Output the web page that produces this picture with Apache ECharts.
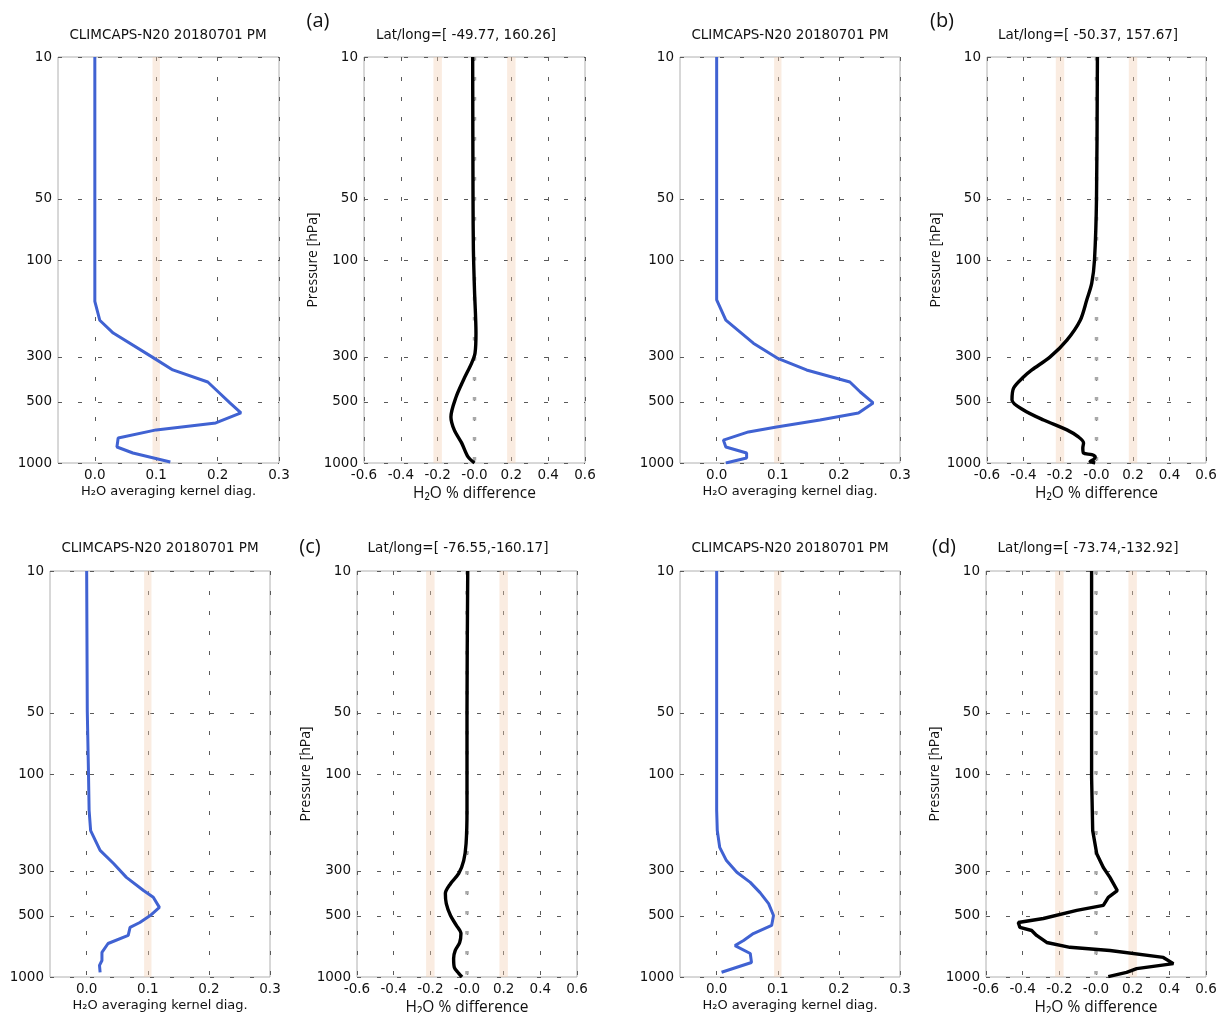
<!DOCTYPE html>
<html>
<head>
<meta charset="utf-8">
<script src="https://cdn.jsdelivr.net/npm/echarts@6/dist/echarts.min.js"></script>
<style>
html,body{margin:0;padding:0;background:#fff;}
#chart{width:1217px;height:1013px;}
</style>
</head>
<body>
<div id="chart"></div>
<script>
// ---------------- DATA ----------------
const pressureTicks = [10, 50, 100, 300, 500, 1000];
const akTicks = [0, 0.1, 0.2, 0.3];
const diffTicks = [-0.6, -0.4, -0.2, 0, 0.2, 0.4, 0.6];

const akTitle = 'CLIMCAPS-N20 20180701 PM';
const locTitles = ['Lat/long=[ -49.77, 160.26]', 'Lat/long=[ -50.37, 157.67]',
                   'Lat/long=[ -76.55,-160.17]', 'Lat/long=[ -73.74,-132.92]'];
const panelLetters = ['(a)', '(b)', '(c)', '(d)'];

// reference (zero-difference) line
const refPressure = [10, 1000];
const refValue = [0, 0];

// target bands
const akBands = [[0.094, 0.106]];
const diffBands = [[-0.223, -0.177], [0.177, 0.223]];

// (a) averaging kernel
const akPressA = [10, 50, 100, 160, 198, 229, 300, 348, 399, 452, 506, 567, 635, 687, 753, 834, 893, 988];
const akValA   = [0, 0, 0, 0.0, 0.008, 0.03, 0.093, 0.127, 0.184, 0.203, 0.22, 0.238, 0.197, 0.1, 0.038, 0.036, 0.062, 0.123];
// (a) % difference
const dfPressA = [10, 50, 89, 141, 229, 287, 321, 390, 473, 593, 687, 796, 933, 1000];
const dfValA   = [-0.01, -0.008, -0.006, 0.0, 0.008, 0.003, -0.015, -0.06, -0.10, -0.128, -0.11, -0.07, -0.035, 0.0];

// (b) averaging kernel
const akPressB = [10, 50, 100, 157, 198, 257, 304, 348, 399, 447, 506, 567, 614, 665, 703, 771, 834, 893, 944, 1000];
const akValB   = [0, 0, 0, 0, 0.015, 0.06, 0.099, 0.147, 0.218, 0.235, 0.256, 0.232, 0.169, 0.098, 0.052, 0.011, 0.015, 0.049, 0.049, 0.015];
// (b) % difference
const dfPressB = [10, 50, 100, 130, 157, 198, 248, 300, 348, 377, 427, 489, 548, 614, 687, 744, 796, 843, 893, 910, 933, 960, 982, 1000];
const dfValB   = [0.005, 0.0, -0.011, -0.026, -0.053, -0.089, -0.162, -0.254, -0.354, -0.40, -0.454, -0.463, -0.40, -0.29, -0.162, -0.099, -0.071, -0.075, -0.071, -0.026, -0.007, -0.016, -0.035, -0.007];

// (c) averaging kernel
const akPressC = [10, 49, 100, 151, 190, 238, 276, 323, 375, 405, 454, 498, 539, 570, 624, 684, 757, 829, 877, 948];
const akValC   = [0, 0.001, 0.003, 0.004, 0.0065, 0.022, 0.044, 0.065, 0.093, 0.109, 0.119, 0.104, 0.087, 0.071, 0.068, 0.035, 0.025, 0.025, 0.021, 0.022];
// (c) % difference
const dfPressC = [10, 50, 151, 220, 267, 309, 347, 388, 435, 498, 557, 611, 676, 740, 810, 897, 960, 1000];
const dfValC   = [0.004, 0, 0, -0.005, -0.018, -0.045, -0.09, -0.118, -0.113, -0.09, -0.058, -0.033, -0.04, -0.064, -0.073, -0.069, -0.045, -0.027];

// (d) averaging kernel
const akPressD = [10, 50, 100, 151, 190, 230, 267, 305, 342, 384, 435, 498, 557, 611, 661, 700, 766, 848, 948];
const akValD   = [0, 0, 0, 0, 0.001, 0.005, 0.016, 0.033, 0.055, 0.071, 0.085, 0.093, 0.09, 0.06, 0.044, 0.03, 0.055, 0.057, 0.008];
// (d) % difference
const dfPressD = [10, 49, 104, 190, 247, 289, 323, 375, 405, 444, 470, 515, 539, 570, 590, 624, 676, 714, 740, 801, 859, 909, 948, 995];
const dfValD   = [-0.024, -0.024, -0.024, -0.018, 0.004, 0.04, 0.076, 0.116, 0.067, 0.04, -0.105, -0.287, -0.424, -0.415, -0.351, -0.324, -0.269, -0.142, 0.076, 0.367, 0.422, 0.222, 0.167, 0.067];

// ---------------- LAYOUT / STYLE ----------------
const panels = [
  {ak: [akPressA, akValA], df: [dfPressA, dfValA], smooth: 0.3},
  {ak: [akPressB, akValB], df: [dfPressB, dfValB], smooth: 0.3},
  {ak: [akPressC, akValC], df: [dfPressC, dfValC], smooth: 0.3},
  {ak: [akPressD, akValD], df: [dfPressD, dfValD], smooth: 0}
];
// grid rectangles: [akRect, dfRect] per panel
const rects = [
  [{left: 58, top: 57, width: 221}, {left: 364, top: 57, width: 221}],
  [{left: 680, top: 57, width: 220}, {left: 987, top: 57, width: 219}],
  [{left: 50, top: 571, width: 220}, {left: 357, top: 571, width: 220}],
  [{left: 680, top: 571, width: 220}, {left: 986, top: 571, width: 220}]
];
const titlePos = [
  {ak: [168, 35], df: [466, 35], letter: [318, 22]},
  {ak: [790, 35], df: [1088, 35], letter: [942, 22]},
  {ak: [160, 548], df: [458, 548], letter: [310, 548]},
  {ak: [790, 548], df: [1088, 548], letter: [944, 548]}
];
const PLOT_H = 406;
const tickFont = 'DejaVu Sans';
const labelFont = 'Open Sans';
const gridDash = {type: [4, 16], color: '#5a5a5a', width: 1};
const blue = '#4062d2';

const zip = (ys, xs) => xs.map((x, i) => [x, ys[i]]);

const grids = [], xAxes = [], yAxes = [], series = [], titles = [];

function addGrid(r) {
  grids.push({left: r.left, top: r.top, width: r.width, height: PLOT_H,
    show: true, borderColor: '#b0b0b0', borderWidth: 1, backgroundColor: 'transparent',
    containLabel: false, outerBoundsMode: 'none'});
  return grids.length - 1;
}

function yAxisFor(gi, withName) {
  const ax = {
    gridIndex: gi, type: 'log', logBase: 10, inverse: true, min: 10, max: 1000,
    axisLine: {show: false},
    axisTick: {show: false, customValues: pressureTicks},
    axisLabel: {customValues: pressureTicks, formatter: v => String(Math.round(v)),
      fontFamily: tickFont, fontSize: 13.5, color: '#111', margin: 6},
    splitLine: {show: true, lineStyle: gridDash}
  };
  if (withName) {
    ax.name = 'Pressure [hPa]';
    ax.nameLocation = 'middle';
    ax.nameRotate = 90;
    ax.nameGap = 44;
    ax.nameTextStyle = {fontFamily: labelFont, fontSize: 14, color: '#111'};
  }
  return ax;
}

panels.forEach((p, i) => {
  // ---- averaging kernel panel ----
  const g1 = addGrid(rects[i][0]);
  xAxes.push({
    gridIndex: g1, type: 'value', min: -0.06, max: 0.3,
    axisLine: {show: false},
    axisTick: {show: false, customValues: akTicks},
    axisLabel: {customValues: akTicks, formatter: v => v.toFixed(1), fontFamily: tickFont, fontSize: 13.5, color: '#111', margin: 5},
    splitLine: {show: true, lineStyle: gridDash},
    name: 'H₂O averaging kernel diag.', nameLocation: 'middle', nameGap: 22,
    nameTextStyle: {fontFamily: tickFont, fontSize: 13, color: '#111'}
  });
  yAxes.push(yAxisFor(g1, false));
  series.push({
    type: 'line', xAxisIndex: g1, yAxisIndex: g1, data: zip(p.ak[0], p.ak[1]),
    showSymbol: false, symbol: 'none', smooth: false,
    lineStyle: {color: blue, width: 3}, z: 5,
    markArea: {silent: true, itemStyle: {color: 'rgba(242,205,175,0.38)'},
      data: akBands.map(b => [{xAxis: b[0]}, {xAxis: b[1]}])}
  });

  // ---- % difference panel ----
  const g2 = addGrid(rects[i][1]);
  xAxes.push({
    gridIndex: g2, type: 'value', min: -0.6, max: 0.6,
    axisLine: {show: false},
    axisTick: {show: false, customValues: diffTicks},
    axisLabel: {customValues: diffTicks, formatter: v => (Math.abs(v) < 1e-9 ? '-0.0' : v.toFixed(1)),
      fontFamily: tickFont, fontSize: 13.5, color: '#111', margin: 5},
    splitLine: {show: true, lineStyle: gridDash},
    name: 'H₂O % difference', nameLocation: 'middle', nameGap: 23,
    nameTextStyle: {fontFamily: labelFont, fontSize: 15.5, color: '#111'}
  });
  yAxes.push(yAxisFor(g2, true));
  series.push({
    type: 'line', xAxisIndex: g2, yAxisIndex: g2, data: zip(refPressure, refValue),
    showSymbol: false, symbol: 'none',
    lineStyle: {color: '#a8a8a8', width: 3.5, type: [3.5, 16.5]}, z: 3,
    markArea: {silent: true, itemStyle: {color: 'rgba(242,205,175,0.38)'},
      data: diffBands.map(b => [{xAxis: b[0]}, {xAxis: b[1]}])}
  });
  series.push({
    type: 'line', xAxisIndex: g2, yAxisIndex: g2, data: zip(p.df[0], p.df[1]),
    showSymbol: false, symbol: 'none', smooth: p.smooth,
    lineStyle: {color: '#000', width: 3.4}, z: 5
  });

  // ---- titles ----
  const tp = titlePos[i];
  titles.push({text: akTitle, left: tp.ak[0], top: tp.ak[1] - 7, textAlign: 'center', padding: 0,
    textStyle: {fontFamily: tickFont, fontSize: 13.5, fontWeight: 'normal', color: '#111'}});
  titles.push({text: locTitles[i], left: tp.df[0], top: tp.df[1] - 7, textAlign: 'center', padding: 0,
    textStyle: {fontFamily: tickFont, fontSize: 13.5, fontWeight: 'normal', color: '#111'}});
  titles.push({text: panelLetters[i], left: tp.letter[0], top: tp.letter[1] - 11, textAlign: 'center', padding: 0,
    textStyle: {fontFamily: labelFont, fontSize: 20, fontWeight: 'normal', color: '#111'}});
});

const chart = echarts.init(document.getElementById('chart'), null, {renderer: 'canvas'});
chart.setOption({
  backgroundColor: '#ffffff',
  animation: false,
  title: titles,
  grid: grids,
  xAxis: xAxes,
  yAxis: yAxes,
  series: series
});
</script>
</body>
</html>
